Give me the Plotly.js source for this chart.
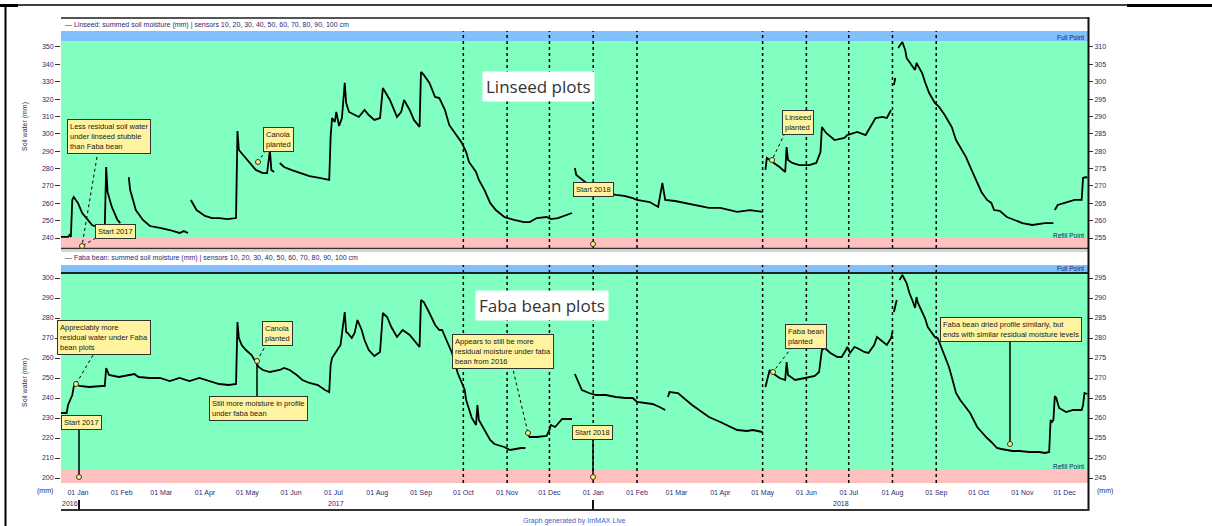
<!DOCTYPE html>
<html><head><meta charset="utf-8">
<script src="https://cdn.plot.ly/plotly-3.0.1.min.js"></script>
<style>html,body{margin:0;padding:0;background:#fff;}#chart{width:1212px;height:526px;}</style>
</head><body><div id="chart"></div>
<script>
// ---------------- data ----------------
const linseedDates = ['2016-12-20','2016-12-25','2016-12-26','2016-12-27','2016-12-28','2016-12-29','2017-01-01','2017-01-04','2017-01-08','2017-01-11','2017-01-16','2017-01-20','2017-01-21','2017-01-22','2017-01-25','2017-01-29','2017-01-31','2017-02-03',
'2017-02-06','2017-02-07','2017-02-09','2017-02-11','2017-02-16','2017-02-21','2017-02-28','2017-03-07','2017-03-14','2017-03-17','2017-03-20','2017-03-21',
'2017-03-22','2017-03-26','2017-04-01','2017-04-06','2017-04-11','2017-04-17','2017-04-23','2017-04-24','2017-04-25','2017-04-29','2017-05-02','2017-05-07','2017-05-12','2017-05-15','2017-05-17','2017-05-18','2017-05-20','2017-05-22',
'2017-05-24','2017-05-27','2017-06-01','2017-06-07','2017-06-14','2017-06-21','2017-06-28','2017-06-29','2017-06-30','2017-07-02','2017-07-03','2017-07-05','2017-07-07','2017-07-09','2017-07-10','2017-07-12','2017-07-16','2017-07-19','2017-07-23','2017-07-26','2017-07-30','2017-08-03','2017-08-05','2017-08-10','2017-08-15','2017-08-18','2017-08-20','2017-08-24','2017-08-27','2017-08-31','2017-09-01','2017-09-03','2017-09-07','2017-09-11','2017-09-14','2017-09-18','2017-09-21','2017-09-25','2017-09-30','2017-10-03','2017-10-05','2017-10-10','2017-10-12','2017-10-16','2017-10-20','2017-10-24','2017-10-30','2017-11-06','2017-11-13','2017-11-17','2017-11-22','2017-11-29','2017-12-02','2017-12-07','2017-12-13','2017-12-17','2017-12-18',
'2017-12-19','2017-12-20','2017-12-29','2018-01-09','2018-01-17','2018-01-23','2018-01-29','2018-02-01','2018-02-10','2018-02-16','2018-02-19','2018-02-21','2018-02-28','2018-03-10','2018-03-17','2018-03-24','2018-04-01','2018-04-13','2018-04-22','2018-05-01','2018-05-02',
'2018-05-03','2018-05-04','2018-05-08','2018-05-13','2018-05-17','2018-05-18','2018-05-19','2018-05-22','2018-05-27','2018-06-03','2018-06-08','2018-06-11','2018-06-12','2018-06-15','2018-06-21','2018-06-28','2018-06-30','2018-07-05','2018-07-07','2018-07-13','2018-07-15','2018-07-20','2018-07-25','2018-07-28','2018-07-31','2018-08-01',
'2018-08-02','2018-08-03','2018-08-04',
'2018-08-05','2018-08-08','2018-08-10','2018-08-11','2018-08-13','2018-08-17','2018-08-18','2018-08-22','2018-08-24','2018-08-27','2018-08-31','2018-09-03','2018-09-07','2018-09-12','2018-09-15','2018-09-19','2018-09-22','2018-09-26','2018-09-30','2018-10-03','2018-10-07','2018-10-10','2018-10-12','2018-10-16','2018-10-21','2018-10-27','2018-11-01','2018-11-08','2018-11-17','2018-11-23','2018-11-23 12:00',
'2018-11-24','2018-11-26','2018-12-01','2018-12-08','2018-12-13','2018-12-14','2018-12-16','2018-12-17'];
const linseedMm = [240.6,240.6,241.7,240.6,261.9,263.6,260.2,254.4,250.4,247.5,245.8,245.8,280.9,266.5,257.9,250.4,248.6,null,
275.1,267.6,261.9,256.1,250.4,246.9,245.8,244.6,242.9,244.0,242.9,null,
261.9,256.1,252.7,251.5,251.5,250.9,251.5,301.6,290.7,286.7,283.8,279.2,277.4,277.4,290.7,279.2,278.0,null,
283.2,280.9,279.2,277.4,275.7,274.6,273.4,298.2,309.1,306.8,312.6,304.5,309.1,329.3,317.8,312.6,310.8,309.7,313.7,310.8,308.0,309.1,326.4,319.5,309.7,312.6,319.5,313.7,308.0,304.0,335.6,333.9,329.3,321.2,320.6,313.7,305.1,300.5,294.7,289.5,283.8,278.0,273.4,267.6,260.2,256.1,252.1,250.4,249.2,249.2,251.5,252.1,250.9,251.5,253.2,254.4,null,
280.3,276.3,270.5,266.5,264.8,264.2,263.0,261.9,260.7,257.9,271.7,261.9,261.3,259.6,258.4,257.3,257.3,255.0,256.1,255.0,null,
279.2,286.1,283.8,280.9,278.0,292.4,284.9,283.2,282.0,282.0,283.2,289.5,303.9,300.5,296.4,297.6,299.3,300.5,301.1,299.3,302.2,309.1,309.7,309.1,313.7,null,
328.1,332.2,null,
349.4,352.9,348.3,343.7,341.4,336.8,340.8,335.0,329.9,323.5,317.8,315.5,310.8,303.9,296.4,290.7,286.7,279.2,271.7,266.5,261.9,260.2,256.1,255.6,252.1,250.4,248.6,247.5,248.6,248.6,null,
256.1,259.0,260.2,261.9,261.9,274.6,275.1,274.6];

const fabaDates = ['2016-12-20','2016-12-24','2016-12-25','2016-12-28','2016-12-29','2016-12-30','2017-01-02','2017-01-09','2017-01-18','2017-01-20','2017-01-21','2017-01-23','2017-01-30','2017-02-06','2017-02-10','2017-02-13','2017-02-21','2017-02-28','2017-03-07','2017-03-14','2017-03-21','2017-03-28','2017-04-04','2017-04-11','2017-04-18','2017-04-23','2017-04-24','2017-04-25','2017-04-27','2017-04-30','2017-05-04','2017-05-07','2017-05-09','2017-05-12','2017-05-17','2017-05-24','2017-05-27','2017-05-31','2017-06-05','2017-06-09','2017-06-14','2017-06-20','2017-06-25','2017-06-28','2017-06-29','2017-06-30','2017-07-04','2017-07-06','2017-07-09','2017-07-10','2017-07-11','2017-07-14','2017-07-16','2017-07-18','2017-07-21','2017-07-23','2017-07-26','2017-07-30','2017-08-03','2017-08-05','2017-08-08','2017-08-11','2017-08-15','2017-08-19','2017-08-24','2017-08-27','2017-08-31','2017-09-01','2017-09-03','2017-09-07','2017-09-11','2017-09-14','2017-09-16','2017-09-19','2017-09-23','2017-09-27','2017-09-30','2017-10-02','2017-10-03','2017-10-05','2017-10-07','2017-10-10','2017-10-11','2017-10-12','2017-10-15','2017-10-18','2017-10-20','2017-10-23','2017-10-30','2017-11-03','2017-11-06','2017-11-11','2017-11-14','2017-11-15',
'2017-11-16','2017-11-17','2017-11-22','2017-11-29','2017-12-01','2017-12-02','2017-12-05','2017-12-08','2017-12-10','2017-12-17','2017-12-18',
'2017-12-19','2017-12-24','2017-12-29','2018-01-03','2018-01-10','2018-01-17','2018-01-24','2018-01-29','2018-02-01','2018-02-05','2018-02-12','2018-02-17','2018-02-21','2018-02-22',
'2018-02-23','2018-02-24','2018-03-02','2018-03-08','2018-03-12','2018-03-19','2018-03-24','2018-04-01','2018-04-08','2018-04-13','2018-04-20','2018-04-24','2018-05-01','2018-05-02',
'2018-05-03','2018-05-05','2018-05-06','2018-05-08','2018-05-13','2018-05-17','2018-05-18','2018-05-19','2018-05-24','2018-05-31','2018-06-07','2018-06-10','2018-06-11','2018-06-12','2018-06-14','2018-06-18','2018-06-23','2018-06-26','2018-06-29','2018-06-30','2018-07-02','2018-07-05','2018-07-07','2018-07-12','2018-07-15','2018-07-19','2018-07-21','2018-07-25','2018-07-28','2018-07-31','2018-08-01','2018-08-01 12:00',
'2018-08-02','2018-08-04','2018-08-05',
'2018-08-06','2018-08-08','2018-08-11','2018-08-13','2018-08-15','2018-08-17','2018-08-18','2018-08-19','2018-08-22','2018-08-24','2018-08-26','2018-08-29','2018-08-31','2018-09-02','2018-09-06','2018-09-10','2018-09-12','2018-09-14','2018-09-15','2018-09-18','2018-09-22','2018-09-25','2018-09-30','2018-10-03','2018-10-07','2018-10-10','2018-10-14','2018-10-17','2018-10-21','2018-10-25','2018-10-30','2018-11-06','2018-11-13','2018-11-17','2018-11-20','2018-11-21','2018-11-22','2018-11-23','2018-11-24','2018-11-25','2018-11-27','2018-12-02','2018-12-07','2018-12-13','2018-12-14','2018-12-15','2018-12-17'];
const fabaMm = [232.5,232.5,236.5,241.5,245.5,247.5,246,245.5,246,246,255,251.5,250.5,251.5,252,250.5,250,250,248.5,250,248.5,250,248.5,247,246.5,247,278,270,266.5,264,261.5,258,255.5,254,253,254,255,254,251.5,249,247.5,246.5,244,243,256.5,260,264,266.5,283,273,272.5,270,272.5,279,274,269,264,261,263,282.5,280.5,275.5,270.5,274,271.5,269,265.5,289,288,282.5,276.5,274,274,269,262.5,252.5,247.5,244,239,234,230,226.5,236.5,229,225,221.5,219,217,215.5,214,214.5,215,215,null,
221.5,220.5,220.5,221,224,226.5,225.5,228,229.5,229.5,null,
252,244,242.5,241.5,241.5,240.5,240,240,238,237.5,237,235.5,234,null,
240.5,243,242.5,239,236.5,233,230.5,228,225.5,224,223.5,224,223,null,
245.5,250.5,254,252.5,250,249,258,251.5,249,250,251,253,259,264,265,262.5,260.5,260.5,264,265.5,262.5,265.5,265,263,262.5,266.5,270.5,268,266.5,270,273,null,
283,289,null,
299,301.5,297.5,292.5,289,285,290.5,287.5,283,280,275.5,272.5,270.5,270,263,255.5,250.5,245.5,242.5,239,235.5,232.5,225.5,223,220,218,215,214.5,214,213.5,213.5,213,213,212.5,213,229,228,229,241,240,235,233,234,234,236.5,242.5,242];

const topLeftTicks = [240,250,260,270,280,290,300,310,320,330,340,350];
const topRightTickText = ['255','260','265','270','275','280','285','290','295','300','305','310'];
const bottomLeftTicks = [200,210,220,230,240,250,260,270,280,290,300];
const bottomRightTickText = ['245','250','255','260','265','270','275','280','285','290','295'];
const eventDates = ['2017-10-01','2017-11-01','2017-12-01','2018-01-01','2018-02-01','2018-05-01','2018-06-01','2018-07-01','2018-08-01','2018-09-01'];
const yearLabels = ['2016','2017','2018'];

// thresholds (mm)
const topRange = [234.24, 359.2], topRefill = 240, topFull = 353.5;
const botRange = [197.5, 306.5], botRefill = 204, botFull = 302.5;

// ---------------- layout helpers ----------------
const X = x => (x - 61) / 1027;
const Y = y => (483 - y) / 452;
const FONT = 'Liberation Sans, Arial, sans-serif';
const NAVY = '#2a2a6e';

const shapes = [];
function band(yref, y0, y1, color) {
  shapes.push({type:'rect', xref:'paper', yref:yref, x0:0, x1:1, y0:y0, y1:y1, fillcolor:color, line:{width:0}, layer:'below'});
}
band('y', topRange[0], topRefill, '#ffc0c0');
band('y', topRefill, topFull, '#80ffc0');
band('y', topFull, topRange[1], '#80c0ff');
band('y3', botRange[0], botRefill, '#ffc0c0');
band('y3', botRefill, botFull, '#80ffc0');
band('y3', botFull, botRange[1], '#80c0ff');
eventDates.forEach(d => {
  shapes.push({type:'line', xref:'x', yref:'y', x0:d, x1:d, y0:topRange[0], y1:topRange[1], line:{color:'#000', width:1.5, dash:'dot'}, layer:'below'});
  shapes.push({type:'line', xref:'x', yref:'y3', x0:d, x1:d, y0:botRange[0], y1:botRange[1], line:{color:'#000', width:1.5, dash:'dot'}, layer:'below'});
});
function pline(x0, y0, x1, y1, color, width, dash) {
  shapes.push({type:'line', xref:'paper', yref:'paper', x0:X(x0), y0:Y(y0), x1:X(x1), y1:Y(y1), line:{color:color, width:width, dash:dash||'solid'}});
}
// panel frame lines
shapes.push({type:'line', xref:'paper', yref:'y3', x0:0, x1:1, y0:botFull, y1:botFull, line:{color:'#222', width:2}});
pline(61, 248.5, 1088, 248.5, '#333', 1.5);
pline(61, 251, 1088, 251, '#aaa', 1);
pline(61, 18, 1088, 18, '#555', 2);
pline(1088.5, 17, 1088.5, 511, '#111', 2);
pline(61, 510, 1089, 510, '#333', 2);
pline(79, 500, 79, 510, '#111', 2);
pline(593, 500, 593, 510, '#111', 2);
// outer page frame
pline(5.5, 5, 5.5, 526, '#000', 2);
pline(5, 5, 1127, 5, '#000', 1.5);
pline(1127, 5.5, 1212, 5.5, '#000', 3);
pline(0, 5.5, 18, 5.5, '#000', 3);

// connectors
pline(98, 151, 82, 246, '#000', 1, 'dot');
pline(96, 238, 82, 246, '#000', 1, 'dot');
pline(266, 150, 258, 162, '#000', 1, 'dot');
pline(785, 133, 772, 160, '#000', 1, 'dot');
pline(96, 350, 76, 384, '#000', 1, 'dot');
pline(79, 429, 79, 477, '#000', 1.5);
pline(267, 343, 257, 361, '#000', 1, 'dot');
pline(257, 397, 257, 363, '#000', 1.5);
pline(512, 365, 528, 433, '#000', 1, 'dot');
pline(593, 438, 593, 477, '#000', 1.5);
pline(792, 347, 773, 372, '#000', 1, 'dot');
pline(1010, 340, 1010, 444, '#000', 1.5);

function dot(x, y) {
  shapes.push({type:'circle', xref:'paper', yref:'paper', xsizemode:'pixel', ysizemode:'pixel', xanchor:X(x), yanchor:Y(y), x0:-2.5, x1:2.5, y0:-2.5, y1:2.5, fillcolor:'#fff27a', line:{color:'#333', width:1}});
}
[[82,246],[258,162],[772,160],[593,244],[76,384],[79,477],[257,361],[528,433],[593,477],[773,372],[1010,444]].forEach(p => dot(p[0], p[1]));

const annotations = [];
function txt(x, y, text, opts) {
  annotations.push(Object.assign({xref:'paper', yref:'paper', x:X(x), y:Y(y), text:text, showarrow:false,
    font:{family:FONT, size:7, color:NAVY}, xanchor:'center', yanchor:'middle'}, opts||{}));
}
function note(x, y, text) {
  txt(x, y, text, {bgcolor:'#fff3a0', bordercolor:'#333', borderwidth:1, borderpad:2, align:'left', font:{family:FONT, size:7.5, color:'#1a1a1a'}});
}
// titles
txt(538, 87, 'Linseed plots', {bgcolor:'#ffffff', borderpad:3, font:{family:'Open Sans, sans-serif', size:17, color:'#333'}});
txt(542, 305, 'Faba bean plots', {bgcolor:'#ffffff', borderpad:3, font:{family:'Open Sans, sans-serif', size:17, color:'#333'}});
// headers
txt(63, 25, '— Linseed: summed soil moisture (mm) | sensors 10, 20, 30, 40, 50, 60, 70, 80, 90, 100 cm', {xanchor:'left'});
txt(63, 258, '— Faba bean: summed soil moisture (mm) | sensors 10, 20, 30, 40, 50, 60, 70, 80, 90, 100 cm', {xanchor:'left'});
// band labels
txt(1086, 37, 'Full Point', {xanchor:'right', font:{family:FONT, size:6.5, color:'#1a1a5a'}});
txt(1086, 235, 'Refill Point', {xanchor:'right', font:{family:FONT, size:6.5, color:'#1a1a5a'}});
txt(1086, 268.5, 'Full Point', {xanchor:'right', font:{family:FONT, size:6.5, color:'#1a1a5a'}});
txt(1086, 466, 'Refill Point', {xanchor:'right', font:{family:FONT, size:6.5, color:'#1a1a5a'}});
// axis side texts
txt(25, 127, 'Soil water (mm)', {textangle:-90});
txt(25, 383, 'Soil water (mm)', {textangle:-90});
txt(45, 491, '(mm)');
txt(1105, 491, '(mm)');
// year labels
txt(70, 504, yearLabels[0]);
txt(336, 504, yearLabels[1]);
txt(841, 504, yearLabels[2]);
// footer
txt(574, 521, 'Graph generated by IrriMAX Live', {font:{family:FONT, size:7, color:'#3a5fc0'}});
// notes: top
note(109, 136, 'Less residual soil water<br>under linseed stubble<br>than Faba bean');
note(115, 231, 'Start 2017');
note(278, 139, 'Canola<br>planted');
note(593, 189, 'Start 2018');
note(798, 123, 'Linseed<br>planted');
// notes: bottom
note(104, 337, 'Appreciably more<br>residual water under Faba<br>bean plots');
note(81, 422, 'Start 2017');
note(277, 333, 'Canola<br>planted');
note(258, 408, 'Still more moisture in profile<br>under faba bean');
note(503, 351, 'Appears to still be more<br>residual moisture under faba<br>bean from 2016');
note(592, 432, 'Start 2018');
note(806, 336, 'Faba bean<br>planted');
note(1011, 329, 'Faba bean dried profile similarly, but<br>ends with similar residual moisture levels');

const tickFont = {family:FONT, size:7, color:NAVY};
const data = [
  {x:linseedDates, y:linseedMm, xaxis:'x', yaxis:'y', mode:'lines', line:{color:'#000', width:1.8}, connectgaps:false, hoverinfo:'x+y'},
  {x:fabaDates, y:fabaMm, xaxis:'x', yaxis:'y3', mode:'lines', line:{color:'#000', width:1.8}, connectgaps:false, hoverinfo:'x+y'},
  {x:[null], y:[null], xaxis:'x', yaxis:'y2', mode:'lines', showlegend:false, hoverinfo:'skip'},
  {x:[null], y:[null], xaxis:'x', yaxis:'y4', mode:'lines', showlegend:false, hoverinfo:'skip'}
];
const layout = {
  width:1212, height:526, showlegend:false,
  margin:{l:61, r:124, t:31, b:43},
  paper_bgcolor:'#fff', plot_bgcolor:'#fff',
  xaxis:{type:'date', range:['2016-12-20','2018-12-17 12:00'], anchor:'y3', dtick:'M1', tick0:'2017-01-01', tickformat:'%d %b',
    ticks:'outside', ticklen:3, tickcolor:'rgba(0,0,0,0)', tickfont:tickFont, showgrid:false, zeroline:false, showline:false},
  yaxis:{domain:[0.5199,1], range:topRange, anchor:'x', tickvals:topLeftTicks, ticks:'outside', ticklen:5, tickcolor:'#333', tickfont:tickFont, showgrid:false, zeroline:false},
  yaxis2:{overlaying:'y', side:'right', anchor:'x', range:topRange, tickvals:topLeftTicks, ticktext:topRightTickText, ticks:'outside', ticklen:4, tickcolor:'#333', tickfont:tickFont, showgrid:false, zeroline:false},
  yaxis3:{domain:[0,0.4823], range:botRange, anchor:'x', tickvals:bottomLeftTicks, ticks:'outside', ticklen:5, tickcolor:'#333', tickfont:tickFont, showgrid:false, zeroline:false},
  yaxis4:{overlaying:'y3', side:'right', anchor:'x', range:botRange, tickvals:bottomLeftTicks, ticktext:bottomRightTickText, ticks:'outside', ticklen:4, tickcolor:'#333', tickfont:tickFont, showgrid:false, zeroline:false},
  shapes:shapes, annotations:annotations
};
Plotly.newPlot('chart', data, layout, {staticPlot:true, displayModeBar:false});
</script>
</body></html>
